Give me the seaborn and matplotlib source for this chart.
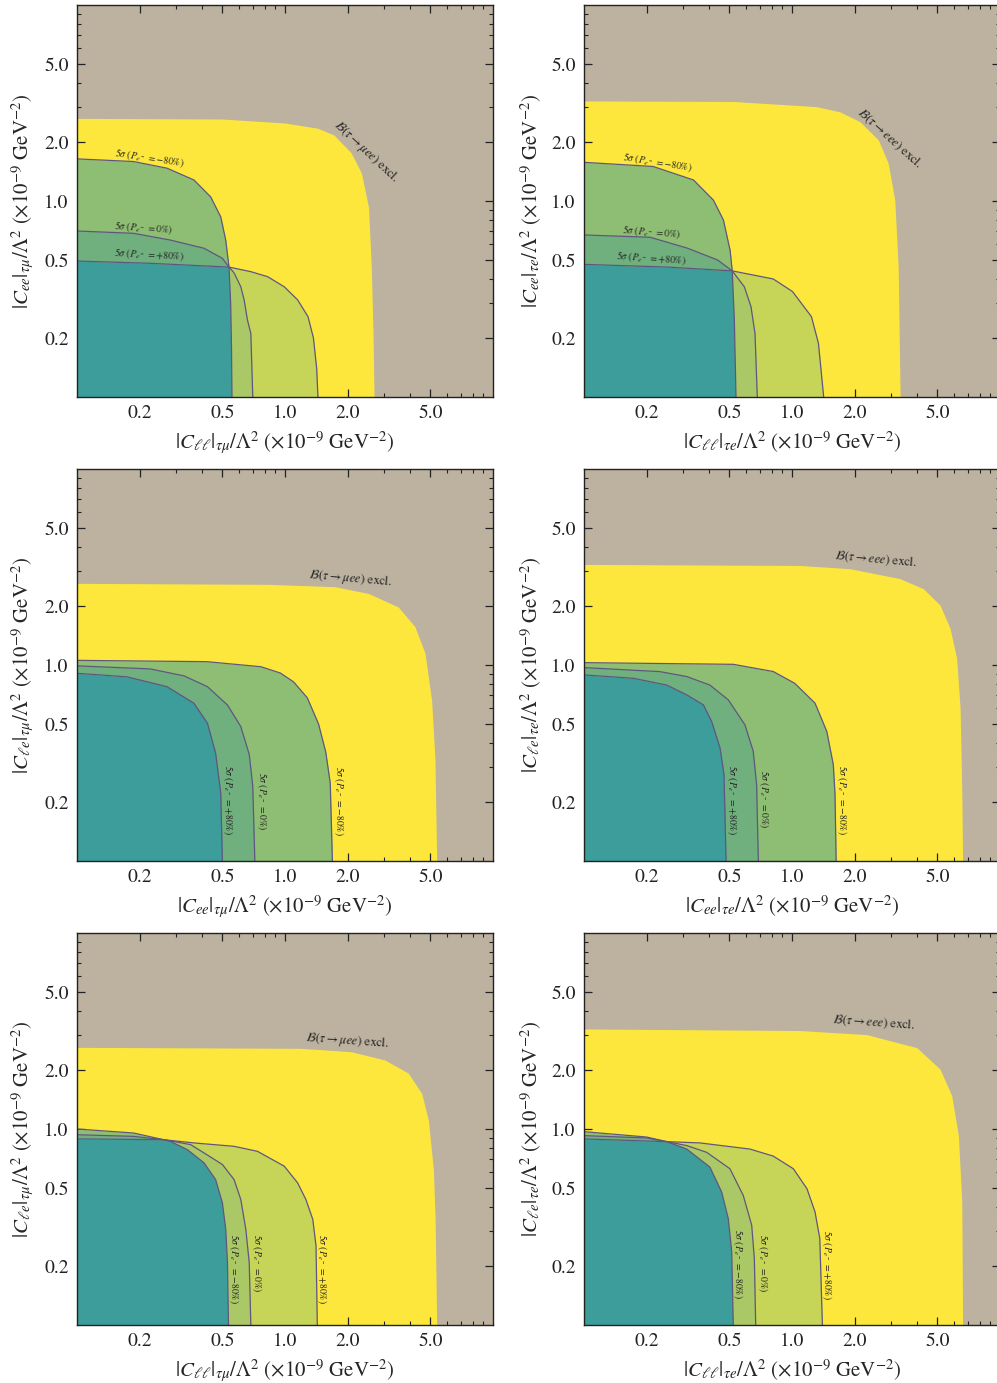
import matplotlib
matplotlib.use("Agg")
import matplotlib.pyplot as plt
import matplotlib.ticker as mticker
import seaborn as sns

# ---------------- data ----------------
# Panel top-left: |C_ll|_{tau mu} vs |C_ee|_{tau mu}
tl_excl_x = [0.1, 0.5, 1.0, 1.44, 1.72, 2.08, 2.33, 2.52, 2.60, 2.65, 2.68]
tl_excl_y = [2.64, 2.62, 2.50, 2.35, 2.17, 1.76, 1.39, 0.93, 0.46, 0.21, 0.1]
tl_m80_x = [0.1, 0.187, 0.271, 0.365, 0.439, 0.491, 0.519, 0.538, 0.548, 0.553, 0.556]
tl_m80_y = [1.64, 1.59, 1.47, 1.28, 1.05, 0.83, 0.63, 0.46, 0.30, 0.18, 0.1]
tl_p0_x = [0.1, 0.187, 0.281, 0.408, 0.50, 0.538, 0.569, 0.613, 0.636, 0.660, 0.685, 0.70]
tl_p0_y = [0.703, 0.684, 0.632, 0.574, 0.51, 0.46, 0.43, 0.365, 0.313, 0.247, 0.211, 0.1]
tl_p80_x = [0.1, 0.225, 0.538, 0.685, 0.825, 0.992, 1.15, 1.29, 1.37, 1.42, 1.44]
tl_p80_y = [0.494, 0.481, 0.46, 0.436, 0.411, 0.365, 0.313, 0.257, 0.20, 0.14, 0.1]

# Panel top-right: |C_ll|_{tau e} vs |C_ee|_{tau e}
tr_excl_x = [0.1, 0.522, 1.31, 1.70, 2.12, 2.60, 2.90, 3.12, 3.24, 3.31]
tr_excl_y = [3.24, 3.22, 3.03, 2.85, 2.54, 2.05, 1.56, 1.01, 0.46, 0.1]
tr_m80_x = [0.1, 0.215, 0.336, 0.419, 0.468, 0.504, 0.516, 0.528, 0.538]
tr_m80_y = [1.575, 1.50, 1.28, 1.01, 0.80, 0.56, 0.44, 0.25, 0.1]
tr_p0_x = [0.1, 0.208, 0.315, 0.439, 0.516, 0.59, 0.635, 0.664, 0.681]
tr_p0_y = [0.671, 0.653, 0.574, 0.50, 0.44, 0.365, 0.289, 0.211, 0.1]
tr_p80_x = [0.1, 0.253, 0.516, 0.813, 1.006, 1.24, 1.34, 1.42]
tr_p80_y = [0.475, 0.46, 0.44, 0.40, 0.345, 0.257, 0.188, 0.1]

# Panel middle-left: |C_ee|_{tau mu} vs |C_le|_{tau mu}
ml_excl_x = [0.1, 0.825, 1.73, 2.51, 3.50, 4.21, 4.71, 5.07, 5.26, 5.36]
ml_excl_y = [2.61, 2.58, 2.51, 2.32, 1.98, 1.57, 1.15, 0.66, 0.33, 0.1]
ml_m80_x = [0.1, 0.42, 0.766, 0.95, 1.10, 1.28, 1.45, 1.57, 1.65, 1.69]
ml_m80_y = [1.056, 1.04, 0.98, 0.91, 0.82, 0.68, 0.50, 0.36, 0.25, 0.1]
ml_p0_x = [0.1, 0.225, 0.327, 0.424, 0.529, 0.613, 0.673, 0.700, 0.716]
ml_p0_y = [0.99, 0.955, 0.88, 0.775, 0.625, 0.485, 0.35, 0.24, 0.1]
ml_p80_x = [0.1, 0.174, 0.271, 0.365, 0.424, 0.464, 0.491, 0.50]
ml_p80_y = [0.907, 0.87, 0.775, 0.638, 0.504, 0.355, 0.222, 0.1]

# Panel middle-right: |C_ee|_{tau e} vs |C_le|_{tau e}
mr_excl_x = [0.1, 1.09, 1.90, 3.30, 4.28, 5.15, 5.75, 6.19, 6.43, 6.55, 6.61]
mr_excl_y = [3.26, 3.22, 3.10, 2.76, 2.45, 2.02, 1.54, 1.08, 0.60, 0.227, 0.1]
mr_m80_x = [0.1, 0.522, 0.813, 1.03, 1.29, 1.47, 1.58, 1.61, 1.63]
mr_m80_y = [1.028, 1.008, 0.926, 0.807, 0.639, 0.458, 0.31, 0.218, 0.1]
mr_p0_x = [0.1, 0.232, 0.312, 0.403, 0.494, 0.594, 0.651, 0.676, 0.689]
mr_p0_y = [0.97, 0.925, 0.873, 0.79, 0.664, 0.495, 0.363, 0.245, 0.1]
mr_p80_x = [0.1, 0.173, 0.25, 0.312, 0.375, 0.411, 0.451, 0.471, 0.482]
mr_p80_y = [0.89, 0.855, 0.79, 0.704, 0.626, 0.515, 0.377, 0.276, 0.1]

# Panel bottom-left: |C_ll|_{tau mu} vs |C_le|_{tau mu}
bl_excl_x = [0.1, 1.19, 2.08, 3.02, 3.91, 4.54, 4.89, 5.17, 5.27, 5.36]
bl_excl_y = [2.61, 2.58, 2.48, 2.25, 1.93, 1.52, 1.11, 0.62, 0.346, 0.1]
bl_m80_x = [0.1, 0.187, 0.261, 0.281, 0.339, 0.408, 0.464, 0.50, 0.519, 0.529, 0.535]
bl_m80_y = [1.0, 0.954, 0.882, 0.865, 0.785, 0.672, 0.552, 0.42, 0.308, 0.208, 0.1]
bl_p0_x = [0.1, 0.187, 0.261, 0.352, 0.408, 0.50, 0.569, 0.613, 0.648, 0.673, 0.685]
bl_p0_y = [0.935, 0.917, 0.882, 0.832, 0.755, 0.659, 0.552, 0.437, 0.308, 0.208, 0.1]
bl_p80_x = [0.1, 0.261, 0.365, 0.569, 0.738, 0.992, 1.15, 1.26, 1.36, 1.41, 1.43]
bl_p80_y = [0.89, 0.882, 0.849, 0.816, 0.769, 0.646, 0.531, 0.437, 0.346, 0.253, 0.1]

# Panel bottom-right: |C_ll|_{tau e} vs |C_le|_{tau e}
br_excl_x = [0.1, 1.09, 2.29, 3.98, 5.15, 5.86, 6.31, 6.55, 6.61]
br_excl_y = [3.24, 3.18, 3.03, 2.60, 2.02, 1.48, 0.925, 0.425, 0.1]
br_m80_x = [0.1, 0.2, 0.25, 0.312, 0.403, 0.459, 0.494, 0.513, 0.522]
br_m80_y = [0.969, 0.91, 0.862, 0.79, 0.639, 0.477, 0.349, 0.237, 0.1]
br_p0_x = [0.1, 0.2, 0.25, 0.312, 0.389, 0.503, 0.583, 0.64, 0.659, 0.669]
br_p0_y = [0.925, 0.90, 0.862, 0.823, 0.76, 0.627, 0.458, 0.323, 0.219, 0.1]
br_p80_x = [0.1, 0.25, 0.361, 0.628, 0.813, 1.015, 1.18, 1.29, 1.36, 1.40]
br_p80_y = [0.89, 0.862, 0.849, 0.79, 0.727, 0.627, 0.496, 0.378, 0.277, 0.1]

tick_major = [0.2, 0.5, 1.0, 2.0, 5.0]
tick_major_labels = ["0.2", "0.5", "1.0", "2.0", "5.0"]
tick_minor = [0.3, 0.4, 0.6, 0.7, 0.8, 0.9, 3, 4, 6, 7, 8, 9]

pol_labels = {"m80": r"$5\sigma\ (P_{e^-}\ = -80\%)$",
              "p0": r"$5\sigma\ (P_{e^-}\ = 0\%)$",
              "p80": r"$5\sigma\ (P_{e^-}\ = +80\%)$"}

GEV = r"/\Lambda^2\ (\times 10^{-9}\ \mathrm{GeV}^{-2})$"
panels = [
    dict(excl=(tl_excl_x, tl_excl_y), m80=(tl_m80_x, tl_m80_y), p0=(tl_p0_x, tl_p0_y), p80=(tl_p80_x, tl_p80_y),
         xl=r"$|C_{\ell\ell}|_{\tau\mu}" + GEV, yl=r"$|C_{ee}|_{\tau\mu}" + GEV,
         bl=r"$\mathcal{B}(\tau\to\mu ee)$ excl."),
    dict(excl=(tr_excl_x, tr_excl_y), m80=(tr_m80_x, tr_m80_y), p0=(tr_p0_x, tr_p0_y), p80=(tr_p80_x, tr_p80_y),
         xl=r"$|C_{\ell\ell}|_{\tau e}" + GEV, yl=r"$|C_{ee}|_{\tau e}" + GEV,
         bl=r"$\mathcal{B}(\tau\to eee)$ excl."),
    dict(excl=(ml_excl_x, ml_excl_y), m80=(ml_m80_x, ml_m80_y), p0=(ml_p0_x, ml_p0_y), p80=(ml_p80_x, ml_p80_y),
         xl=r"$|C_{ee}|_{\tau\mu}" + GEV, yl=r"$|C_{\ell e}|_{\tau\mu}" + GEV,
         bl=r"$\mathcal{B}(\tau\to\mu ee)$ excl."),
    dict(excl=(mr_excl_x, mr_excl_y), m80=(mr_m80_x, mr_m80_y), p0=(mr_p0_x, mr_p0_y), p80=(mr_p80_x, mr_p80_y),
         xl=r"$|C_{ee}|_{\tau e}" + GEV, yl=r"$|C_{\ell e}|_{\tau e}" + GEV,
         bl=r"$\mathcal{B}(\tau\to eee)$ excl."),
    dict(excl=(bl_excl_x, bl_excl_y), m80=(bl_m80_x, bl_m80_y), p0=(bl_p0_x, bl_p0_y), p80=(bl_p80_x, bl_p80_y),
         xl=r"$|C_{\ell\ell}|_{\tau\mu}" + GEV, yl=r"$|C_{\ell e}|_{\tau\mu}" + GEV,
         bl=r"$\mathcal{B}(\tau\to\mu ee)$ excl."),
    dict(excl=(br_excl_x, br_excl_y), m80=(br_m80_x, br_m80_y), p0=(br_p0_x, br_p0_y), p80=(br_p80_x, br_p80_y),
         xl=r"$|C_{\ell\ell}|_{\tau e}" + GEV, yl=r"$|C_{\ell e}|_{\tau e}" + GEV,
         bl=r"$\mathcal{B}(\tau\to eee)$ excl."),
]

# label placements (x, y, rotation) for each panel
lab_pos = [
    dict(bl=(2.46, 1.78, -43), m80=(0.223, 1.66, -8.5), p0=(0.208, 0.728, -4), p80=(0.223, 0.53, -3)),
    dict(bl=(2.96, 2.09, -42), m80=(0.2256, 1.57, -9), p0=(0.2116, 0.691, -4.5), p80=(0.21, 0.507, -4)),
    dict(bl=(2.06, 2.77, -5), m80=(1.81, 0.203, -90), p0=(0.774, 0.203, -90), p80=(0.533, 0.205, -90)),
    dict(bl=(2.53, 3.45, -5), m80=(1.73, 0.205, -90), p0=(0.735, 0.206, -90), p80=(0.513, 0.205, -90)),
    dict(bl=(1.99, 2.82, -4), m80=(0.569, 0.193, -90), p0=(0.731, 0.207, -90), p80=(1.51, 0.193, -90)),
    dict(bl=(2.46, 3.51, -4), m80=(0.552, 0.205, -90), p0=(0.722, 0.206, -90), p80=(1.48, 0.202, -90)),
]

# ---------------- style ----------------
sns.set_theme(style="ticks")
plt.rcParams["font.family"] = ["STIXGeneral", "DejaVu Serif"]
plt.rcParams["mathtext.fontset"] = "stix"
plt.rcParams["axes.linewidth"] = 1.0

TAN = "#bcb29f"
YELLOW = "#fde73c"
LIGHT = "#8ebe73"
YG = "#c6d458"
MED = "#70b07e"
LOWB = "#aac866"
TEAL = "#3c9d9a"
LINE = "#5f5680"

W, H = 997, 1383
fig = plt.figure(figsize=(W / 100, H / 100), dpi=100)

lefts = [77, 584]
tops = [5, 469, 933]
aw, ah = 416, 392


def draw(ax, d, lp):
    ax.set_xscale("log")
    ax.set_yscale("log")
    ax.set_xlim(0.1, 10)
    ax.set_ylim(0.1, 10)
    ax.set_facecolor(TAN)
    ex, ey = d["excl"]
    ax.fill_between(ex, 0.1, ey, color=YELLOW, lw=0, zorder=0.5)
    a = ax.fill_between(d["m80"][0], 0.1, d["m80"][1], color=LIGHT, lw=0, zorder=0.6)
    b = ax.fill_between(d["p80"][0], 0.1, d["p80"][1], color=YG, lw=0, zorder=0.7)
    c1 = ax.fill_between(d["p0"][0], 0.1, d["p0"][1], color=MED, lw=0, zorder=0.8)
    c1.set_clip_path(a.get_paths()[0], ax.transData)
    c2 = ax.fill_between(d["p0"][0], 0.1, d["p0"][1], color=LOWB, lw=0, zorder=0.9)
    c2.set_clip_path(b.get_paths()[0], ax.transData)
    t = ax.fill_between(d["p80"][0], 0.1, d["p80"][1], color=TEAL, lw=0, zorder=1.0)
    t.set_clip_path(a.get_paths()[0], ax.transData)
    for k in ["m80", "p0", "p80"]:
        sns.lineplot(x=d[k][0], y=d[k][1], sort=False, estimator=None, color=LINE,
                     lw=0.9, ax=ax, zorder=1.2)
        x, y, r = lp[k]
        ax.text(x, y, pol_labels[k], rotation=r, rotation_mode="anchor", ha="center",
                va="center", fontsize=6.9, color="#222222", zorder=1.5)
    x, y, r = lp["bl"]
    ax.text(x, y, d["bl"], rotation=r, rotation_mode="anchor", ha="center", va="center",
            fontsize=9, color="#222222", zorder=1.5)

    for axis in (ax.xaxis, ax.yaxis):
        axis.set_major_locator(mticker.FixedLocator(tick_major))
        axis.set_major_formatter(mticker.FixedFormatter(tick_major_labels))
        axis.set_minor_locator(mticker.FixedLocator(tick_minor))
        axis.set_minor_formatter(mticker.NullFormatter())
    ax.tick_params(which="both", direction="in", top=True, right=True, colors="#222222")
    ax.tick_params(which="major", length=6, width=0.9, labelsize=14, pad=6)
    ax.tick_params(which="minor", length=3, width=0.8)
    ax.set_xlabel(d["xl"], fontsize=15)
    ax.set_ylabel(d["yl"], fontsize=15)
    ax.xaxis.set_label_coords(0.5, -0.083)
    ax.yaxis.set_label_coords(-0.097, 0.5)
    for s in ax.spines.values():
        s.set_color("#222222")


for i, d in enumerate(panels):
    r, c = divmod(i, 2)
    l = lefts[c] / W
    b = 1 - (tops[r] + ah) / H
    ax = fig.add_axes([l, b, aw / W, ah / H])
    draw(ax, d, lab_pos[i])

fig.savefig("out.png", dpi=100)
